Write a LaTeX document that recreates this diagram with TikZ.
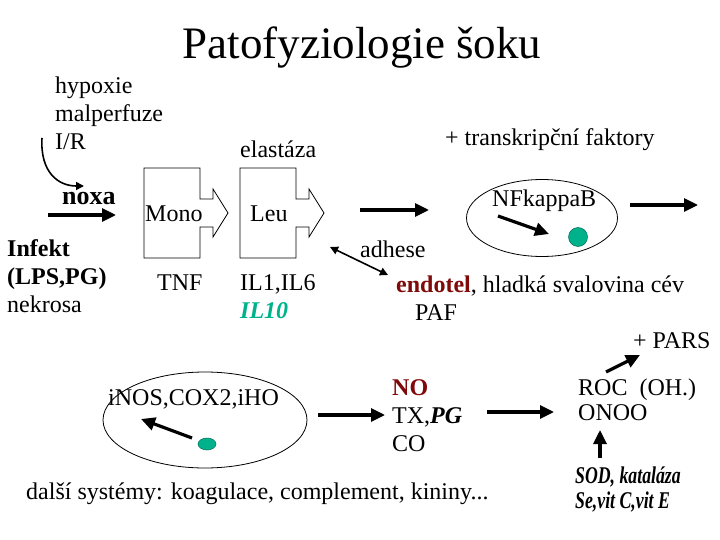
\documentclass[tikz,border=0pt]{standalone}
\usepackage{fontspec}
\setmainfont{Liberation Serif}
\newfontfamily\narrowserif[FakeStretch=0.74]{Liberation Serif}
\usepackage{tikz}
\usetikzlibrary{arrows.meta, positioning, shapes.geometric}

\definecolor{dotgreen}{RGB}{0,178,140}
\definecolor{endored}{RGB}{128,10,10}

\begin{document}
\begin{tikzpicture}[
    x=1pt, y=-1pt,
    txt/.style={inner sep=0pt, font=\fontsize{24}{28}\selectfont},
    lbl/.style={txt, anchor=base west},
    stack/.style={txt, anchor=north west, align=left},
    bigarrow/.style={-{Triangle[length=14pt,width=13pt]}, line width=3.2pt},
    thinarrow/.style={-{Triangle[length=8pt,width=8pt]}, line width=1.6pt},
    twoway/.style={{Triangle[length=8pt,width=8pt]}-{Triangle[length=8pt,width=8pt]}, line width=1.6pt},
    cell/.style={ellipse, draw, line width=0.8pt, inner sep=0pt},
    blob/.style={ellipse, fill=dotgreen, draw=dotgreen!60!black, line width=0.5pt, inner sep=0pt},
    cellshape/.style={draw, line width=0.8pt}
]
\useasboundingbox (0,0) rectangle (720,540);

\node[anchor=base, inner sep=0pt, font=\fontsize{45}{50}\selectfont] (title) at (362,59) {Patofyziologie šoku};

% vstupy
\node[stack] (causes) at (55,76.6) {hypoxie\\malperfuze\\I/R};
\node[lbl, font=\fontsize{26}{28}\selectfont\bfseries] (noxa) at (62,205) {noxa};
\node[stack, font=\fontsize{24}{28}\selectfont\bfseries] (infekt) at (7,239) {Infekt\\(LPS,PG)\\{\mdseries nekrosa}};
\coordinate (curveS) at (42,138);
\coordinate (curveE) at (84,186);
\draw[thinarrow] (curveS) .. controls (40,172) and (58,186) .. (curveE);
\coordinate (noxaS) at (48,215);
\coordinate (noxaE) at (116,215);
\draw[bigarrow] (noxaS) -- (noxaE);

% bunky
\foreach \dx in {0,96} {
  \draw[cellshape, xshift=\dx] (144,168) -- (200,168) -- (200,199) -- (213,199) -- (213,189)
    -- (228,213) -- (213,237) -- (213,227) -- (200,227) -- (200,258) -- (144,258) -- cycle;
}
\node[lbl] (mono) at (145,222) {Mono};
\node[lbl] (tnf) at (157,290) {TNF};
\node[lbl] (leu) at (250,222) {Leu};
\node[lbl] (elastaza) at (240,158) {elastáza};
\node[stack] (il) at (240,274) {IL1,IL6\\\textcolor{dotgreen}{\bfseries\itshape IL10}};

% endotel
\coordinate (leuS) at (360,210);
\coordinate (leuE) at (429,210);
\draw[bigarrow] (leuS) -- (leuE);
\node[lbl] (faktory) at (445,146) {+ transkripční faktory};
\node[cell, minimum width=151pt, minimum height=77pt] (nfkbcell) at (542,218) {};
\node[lbl] (nfkb) at (492,207) {NFkappaB};
\node[blob, minimum width=19pt, minimum height=19pt] (nfkbdot) at (578,237) {};
\coordinate (nfkbS) at (498,216);
\coordinate (nfkbE) at (549,234);
\draw[bigarrow] (nfkbS) -- (nfkbE);
\coordinate (outS) at (630,205);
\coordinate (outE) at (698,205);
\draw[bigarrow] (outS) -- (outE);
\coordinate (adhS) at (330,247);
\coordinate (adhE) at (388,275);
\draw[twoway] (adhS) -- (adhE);
\node[lbl] (adhese) at (360,257) {adhese};
\node[lbl] (endotel) at (396,292) {\textcolor{endored}{\bfseries endotel}, hladká svalovina cév};
\node[lbl] (paf) at (415,320) {PAF};
\node[lbl] (pars) at (633,348) {+ PARS};

% mediatory
\node[cell, minimum width=204pt, minimum height=96pt] (enzcell) at (205,420) {};
\node[lbl] (enzymy) at (108,405) {iNOS,COX2,iHO};
\node[blob, minimum width=18pt, minimum height=12pt] (enzdot) at (207,444) {};
\coordinate (enzS) at (192,438);
\coordinate (enzE) at (141,419);
\draw[bigarrow] (enzS) -- (enzE);
\coordinate (mediS) at (318,415);
\coordinate (mediE) at (385,415);
\draw[bigarrow] (mediS) -- (mediE);
\node[stack] (mediatory) at (392,379.5) {\textcolor{endored}{\bfseries NO}\\TX,{\bfseries\itshape PG}\\CO};
\coordinate (rocS) at (487,412);
\coordinate (rocE) at (554,412);
\draw[bigarrow] (rocS) -- (rocE);
\node[stack] (roc) at (578,378.5) {ROC\ \ (OH.)\\[-3pt]ONOO};
\coordinate (parsS) at (606,372);
\coordinate (parsE) at (640,355);
\draw[bigarrow] (parsS) -- (parsE);
\node[stack, font=\fontsize{24}{28}\narrowserif\bfseries\itshape] (sod) at (575,466.6) {SOD, kataláza\\[-3pt]Se,vit C,vit E};
\coordinate (sodS) at (600,458);
\coordinate (sodE) at (600,430);
\draw[bigarrow] (sodS) -- (sodE);
\node[lbl] (dalsi) at (26,499) {další systémy: koagulace, complement, kininy...};
\end{tikzpicture}
\end{document}
